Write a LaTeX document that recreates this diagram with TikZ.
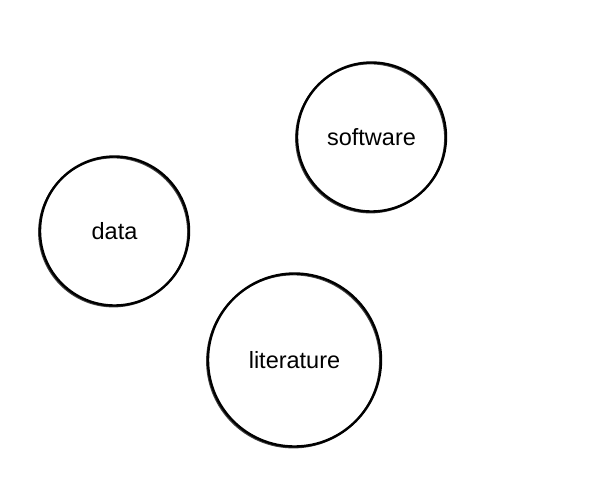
\documentclass[tikz,border=0pt]{standalone}
\usepackage{fontspec}
\setmainfont{Liberation Sans}
\usetikzlibrary{positioning}

\tikzset{
    topic/.style={circle, draw=black, line width=2.4pt, minimum size=#1, inner sep=0pt,
        font=\fontsize{23.5}{28}\selectfont,
        preaction={draw=black, line width=1.6pt, opacity=0.75,
            transform canvas={shift={(-1.1pt,-1.1pt)}}}},
    topic/.default=149pt
}

\begin{document}
\begin{tikzpicture}[x=1pt,y=-1pt]
    \useasboundingbox (0,0) rectangle (600,480);
    \node[topic] (software) at (371.5,137) {software};
    \node[topic] (data) at (114.5,231) {data};
    \node[topic=173pt] (literature) at (294.5,360) {literature};
\end{tikzpicture}
\end{document}
